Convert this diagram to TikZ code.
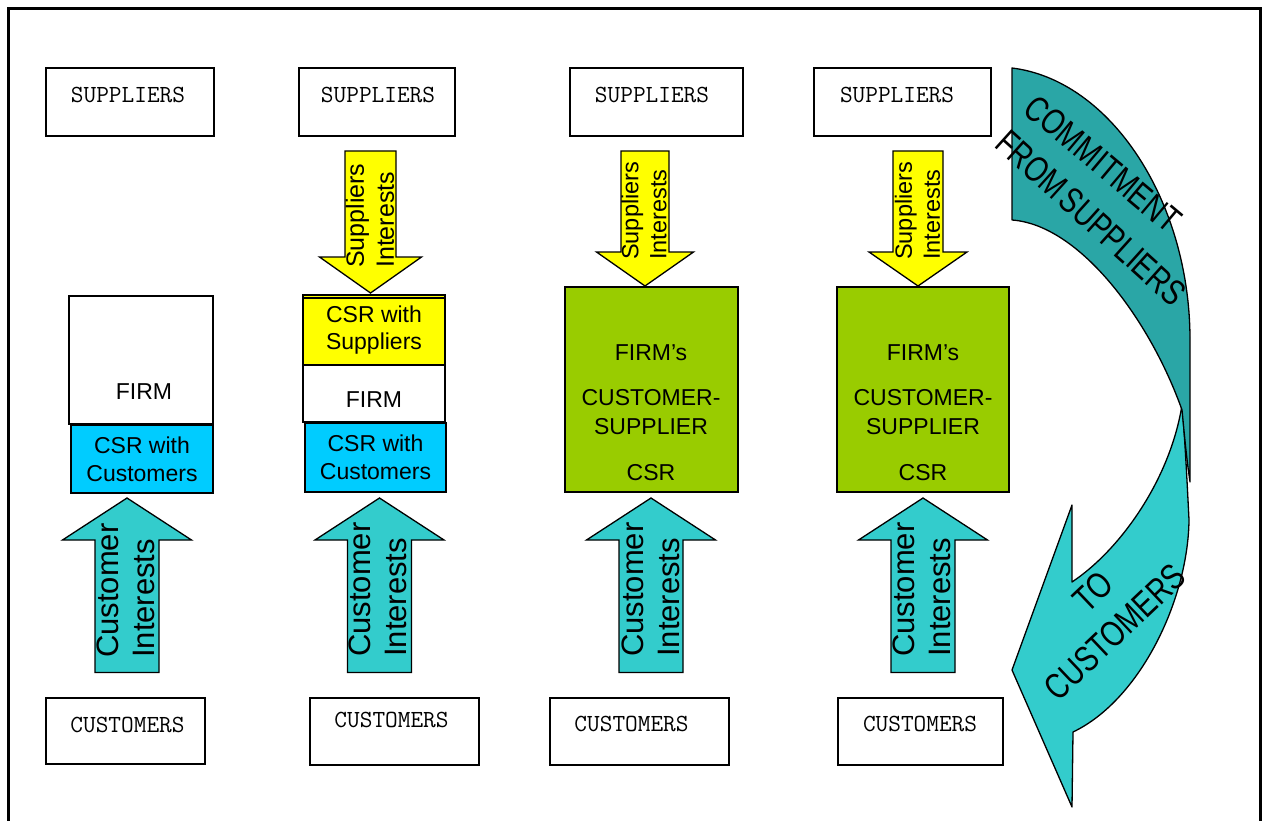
\documentclass[tikz,border=0pt]{standalone}
\usepackage{fontspec}
\setmainfont{Liberation Sans}
\definecolor{custc}{HTML}{33CCCC}
\definecolor{tealdk}{HTML}{2AA6A6}
\definecolor{yel}{HTML}{FFFF00}
\definecolor{blu}{HTML}{00CCFF}
\definecolor{grn}{HTML}{99CC00}
\newcommand\myup[1]{%
  \draw[arrfill, fill=custc] (#1-32,672.5) -- (#1+32,672.5) -- (#1+32,540) -- (#1+64.5,540) -- (#1,498) -- (#1-64.5,540) -- (#1-32,540) -- cycle;}
\newcommand\mydown[6]{%
  \draw[arrfill, fill=yel] (#1-#2,#4) -- (#1+#2,#4) -- (#1+#2,#5) -- (#1+#3,#5) -- (#1,#6) -- (#1-#3,#5) -- (#1-#2,#5) -- cycle;}
\begin{document}
\begin{tikzpicture}[x=1pt,y=-1pt,
  box/.style={draw=black, line width=1.3pt, inner sep=0pt, outer sep=0pt, anchor=north west},
  lab/.style={font=\fontsize{23}{27.6}\selectfont, align=center, inner sep=0pt},
  mono/.style={font=\ttfamily\fontsize{24.6}{28}\selectfont, inner sep=0pt},
  arrfill/.style={draw=black, line width=1.3pt},
  vtxt/.style={rotate=90, anchor=west, align=left, inner sep=0pt},
  custtxt/.style={vtxt, font=\fontsize{31}{36}\selectfont},
  bigtxt/.style={font=\fontsize{36}{43}\selectfont, inner sep=0pt},
]
\fill[white] (0,0) rectangle (1263,821);
\useasboundingbox (0,0) rectangle (1263,821);
% frame
\draw[line width=3pt] (8.5,823) -- (8.5,8.5) -- (1260.5,8.5) -- (1260.5,823);

% ---------- suppliers boxes ----------
\node[box, minimum width=168, minimum height=68] (s1) at (46,68) {};
\node[box, minimum width=156, minimum height=68] (s2) at (299,68) {};
\node[box, minimum width=173, minimum height=68] (s3) at (570,68) {};
\node[box, minimum width=177, minimum height=68] (s4) at (814,68) {};
\node[mono] (s1t) at (128,95) {SUPPLIERS};
\node[mono] (s2t) at (378,95) {SUPPLIERS};
\node[mono] (s3t) at (652,95) {SUPPLIERS};
\node[mono] (s4t) at (897,95) {SUPPLIERS};

% ---------- customers boxes ----------
\node[box, minimum width=159, minimum height=66] (c1) at (46,698) {};
\node[box, minimum width=169, minimum height=67] (c2) at (310,698) {};
\node[box, minimum width=179, minimum height=67] (c3) at (550,698) {};
\node[box, minimum width=165, minimum height=67] (c4) at (838,698) {};
\node[mono] (c1t) at (127.5,724.5) {CUSTOMERS};
\node[mono] (c2t) at (391.5,720) {CUSTOMERS};
\node[mono] (c3t) at (631.5,723.5) {CUSTOMERS};
\node[mono] (c4t) at (920,723.5) {CUSTOMERS};

% ---------- column 1 ----------
\node[box, fill=white, minimum width=144, minimum height=128] (f1) at (69,296) {};
\node[lab] (f1t) at (144,392) {FIRM};
\node[box, fill=blu, minimum width=142, minimum height=68] (b1) at (71,425) {};
\node[lab] (b1t) at (b1.center) {CSR with\\Customers};

% ---------- column 2 ----------
\node[box, fill=yel, minimum width=142, minimum height=70] (y2) at (303,295) {};
\draw[line width=1.3pt] (y2.north west) ++(0,3) -- ++(142,0);
\node[lab] (y2t) at (y2.center) {CSR with\\Suppliers};
\node[box, fill=white, minimum width=142, minimum height=57] (f2) at (303,365) {};
\node[lab] (f2t) at (374,400) {FIRM};
\node[box, fill=blu, minimum width=141, minimum height=69] (b2) at (305,423) {};
\node[lab] (b2t) at (b2.center) {CSR with\\Customers};

% ---------- columns 3 and 4 ----------
\node[box, fill=grn, minimum width=173, minimum height=205] (g3) at (565,287) {};
\node[box, fill=grn, minimum width=172, minimum height=205] (g4) at (837,287) {};
\node[lab] (g3a) at (651,353) {FIRM’s};
\node[lab] (g3b) at (651,398) {CUSTOMER-};
\node[lab] (g3c) at (651,427) {SUPPLIER};
\node[lab] (g3d) at (651,473) {CSR};
\node[lab] (g4a) at (923,353) {FIRM’s};
\node[lab] (g4b) at (923,398) {CUSTOMER-};
\node[lab] (g4c) at (923,427) {SUPPLIER};
\node[lab] (g4d) at (923,473) {CSR};

% ---------- supplier interest arrows ----------
\mydown{370.5}{25.5}{51}{151}{257}{293}
\mydown{645}{24}{48.5}{151}{252}{286}
\mydown{918}{25}{49}{151}{252}{286}
\node[vtxt, font=\fontsize{25}{30}\selectfont] (si2) at (370,268) {Suppliers\\Interests};
\node[vtxt, font=\fontsize{23.5}{28}\selectfont] (si3) at (644,260) {Suppliers\\Interests};
\node[vtxt, font=\fontsize{23.5}{28}\selectfont] (si4) at (917.5,260) {Suppliers\\Interests};

% ---------- customer interest arrows ----------
\myup{127}
\myup{379.5}
\myup{651}
\myup{923}
\node[custtxt] (ci1) at (125.5,658) {Customer\\Interests};
\node[custtxt] (ci2) at (378,657) {Customer\\Interests};
\node[custtxt] (ci3) at (651,657) {Customer\\Interests};
\node[custtxt] (ci4) at (922,657) {Customer\\Interests};

% ---------- curved arrow ----------
\draw[arrfill, fill=custc, line join=round] (1182,405) .. controls (1185,440) and (1187,480) .. (1189,520)
  .. controls (1188,600) and (1140,700) .. (1073,732) -- (1072,807) -- (1012,670) -- (1072,505) -- (1072,582)
  .. controls (1120,550) and (1170,480) .. (1182,405) -- cycle;
\draw[arrfill, fill=tealdk, line join=round] (1012,68) .. controls (1110,80) and (1190,200) .. (1190,340)
  -- (1190,482) .. controls (1186,455) and (1184,430) .. (1182,410)
  .. controls (1150,320) and (1080,225) .. (1012,220) -- cycle;
\node[rotate=-40, bigtxt, xscale=0.77] (cm1) at (1103,164) {COMMITMENT};
\node[rotate=-42, bigtxt, xscale=0.77] (cm2) at (1091,218) {FROM\hspace{-5pt} SUPPLIERS};
\node[rotate=43.5, bigtxt, xscale=0.8] (tc1) at (1093,592) {TO};
\node[rotate=43.5, bigtxt, xscale=0.78] (tc2) at (1115,632) {CUSTOMERS};
\end{tikzpicture}
\end{document}
